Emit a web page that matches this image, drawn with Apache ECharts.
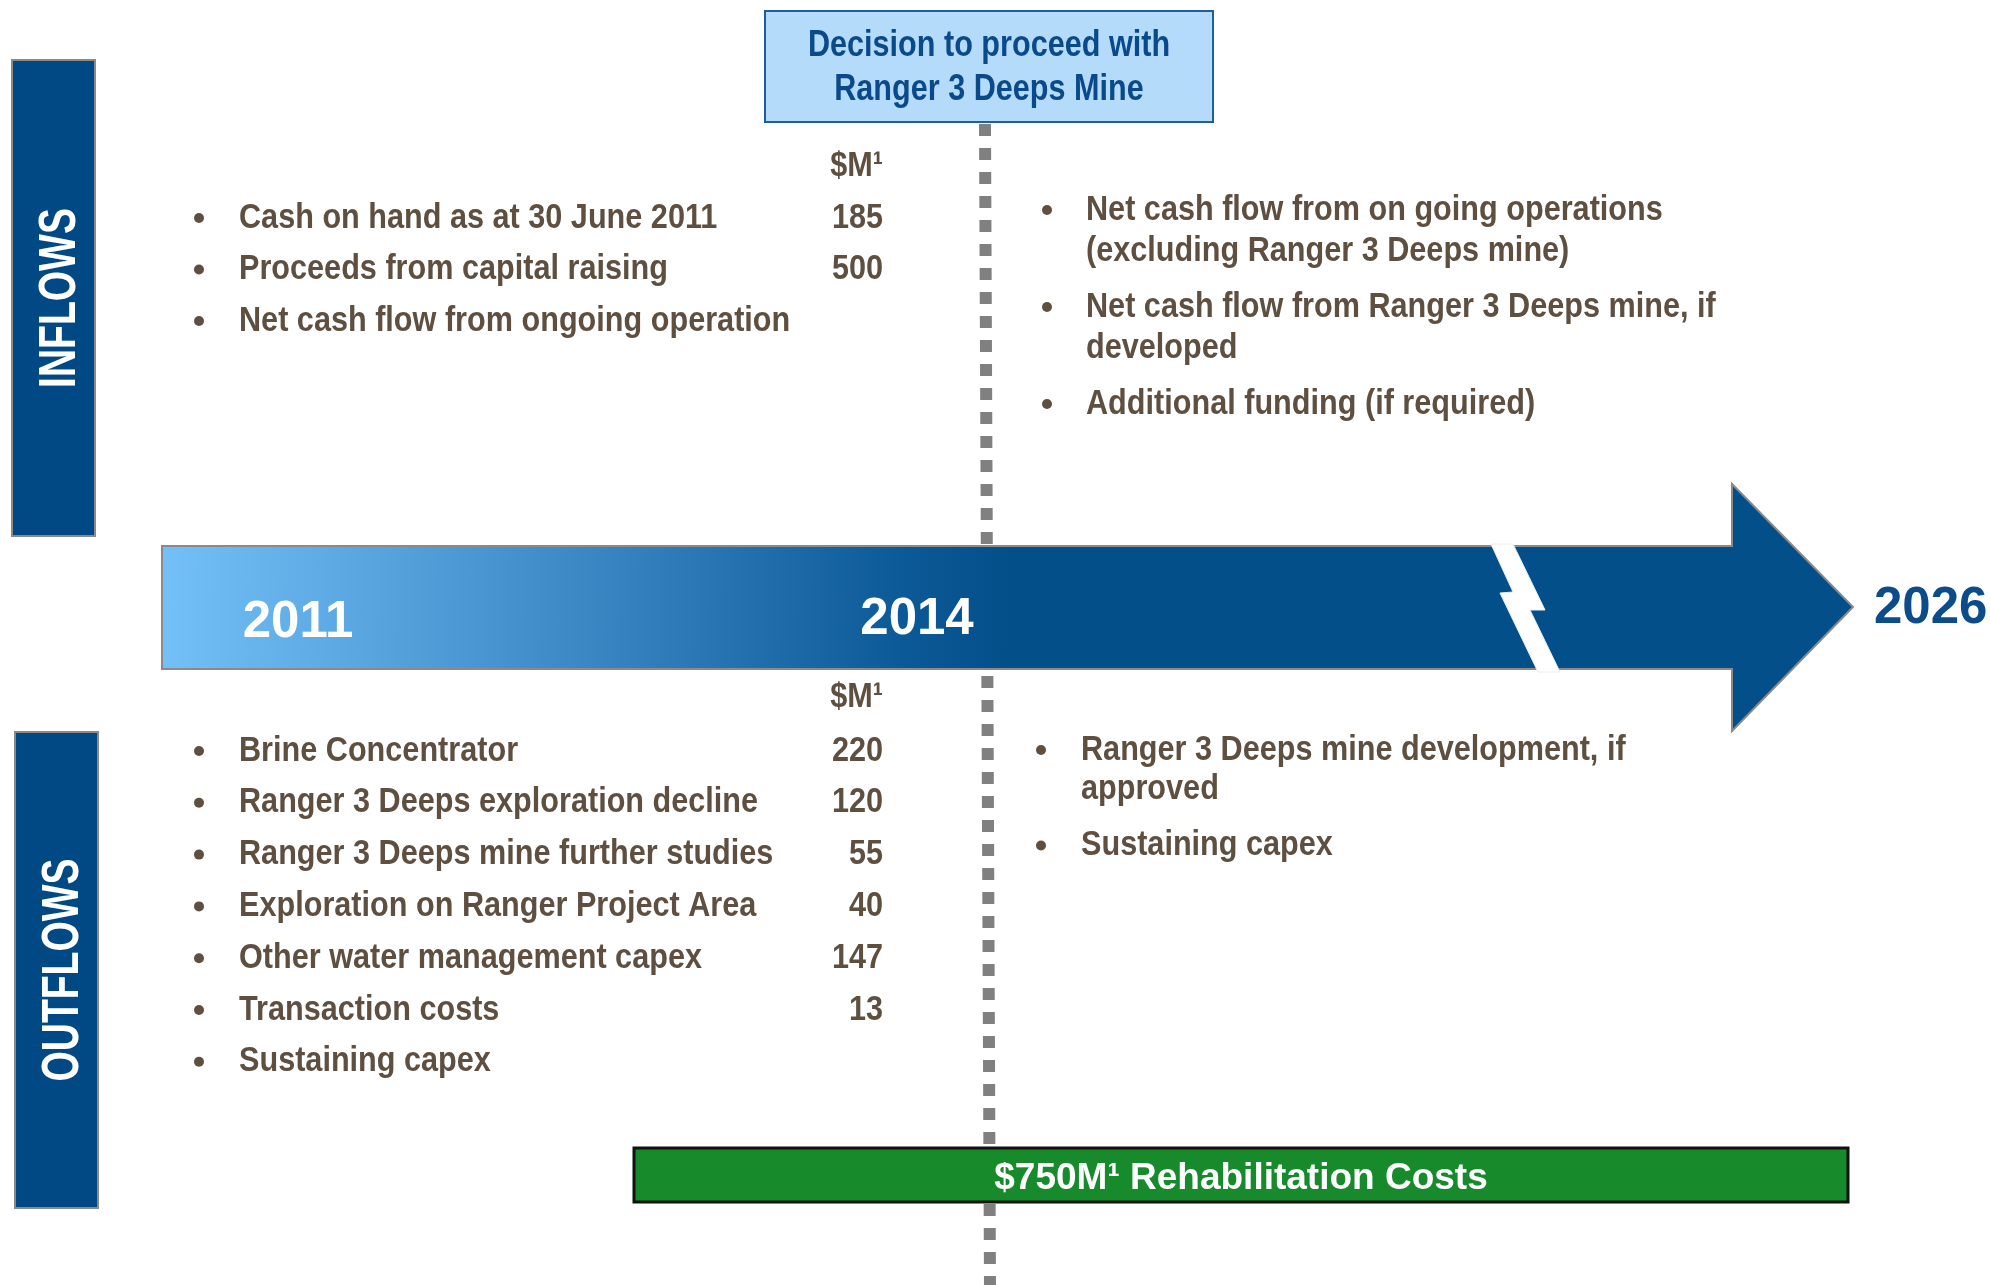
<!DOCTYPE html>
<html lang="en">
<head>
<meta charset="UTF-8">
<title>Ranger 3 Deeps - cash flow timeline</title>
<script src="https://cdn.jsdelivr.net/npm/echarts@6/dist/echarts.min.js"></script>
<style>
  html, body { margin: 0; padding: 0; background: #fff; }
  #main { width: 1990px; height: 1285px; }
</style>
</head>
<body>
<div id="main"></div>
<script>
// timeline labels
var years = ['2011', '2014', '2026'];
var decisionLines = ['Decision to proceed with', 'Ranger 3 Deeps Mine'];
var unitLabel = '$M\u00b9';
var sideLabels = ['INFLOWS', 'OUTFLOWS'];

// before the decision (2011-2014), $M
var inflowItems = ['Cash on hand as at 30 June 2011', 'Proceeds from capital raising', 'Net cash flow from ongoing operation'];
var inflowValues = [185, 500, null];
var outflowItems = ['Brine Concentrator', 'Ranger 3 Deeps exploration decline', 'Ranger 3 Deeps mine further studies',
  'Exploration on Ranger Project Area', 'Other water management capex', 'Transaction costs', 'Sustaining capex'];
var outflowValues = [220, 120, 55, 40, 147, 13, null];

// after the decision (2014-2026)
var inflowLater = [
  ['Net cash flow from on going operations', '(excluding Ranger 3 Deeps mine)'],
  ['Net cash flow from Ranger 3 Deeps mine, if', 'developed'],
  ['Additional funding (if required)']
];
var outflowLater = [
  ['Ranger 3 Deeps mine development, if', 'approved'],
  ['Sustaining capex']
];
var rehabLabel = '$750M\u00b9 Rehabilitation Costs';

// no Arial Narrow here, so squeeze Liberation Sans Bold instead
var FONT = '"Liberation Sans", Arial, sans-serif';
var BODY = 'bold 35px ' + FONT;
var SQUEEZE = 0.875;
var BROWN = '#5e4f40';
var NAVY = '#024f8a';

var g = [];

function txt(x, y, s, font, fill, align, extra) {
  var el = {
    type: 'text', x: x, y: y, z: 20,
    style: { text: s, font: font, fill: fill, align: align || 'left', verticalAlign: 'middle' }
  };
  if (extra) for (var k in extra) el[k] = extra[k];
  g.push(el);
}
function body(x, y, s, align) {
  txt(x, y, s, BODY, BROWN, align, { scaleX: SQUEEZE });
}
function bullet(x, y) {
  g.push({ type: 'circle', z: 20, shape: { cx: x, cy: y, r: 5 }, style: { fill: BROWN } });
}

// dashed decision line (behind everything)
g.push({
  type: 'line', z: 1,
  shape: { x1: 985, y1: 124, x2: 990, y2: 1290 },
  style: { stroke: '#808080', lineWidth: 12, lineDash: [12, 12], lineCap: 'butt' }
});

// side boxes
[[12, 60, 83, 476], [15, 732, 83, 476]].forEach(function (b, i) {
  g.push({
    type: 'rect', z: 5,
    shape: { x: b[0], y: b[1], width: b[2], height: b[3] },
    style: { fill: '#014985', stroke: '#8a8a8a', lineWidth: 2 }
  });
  txt(b[0] + b[2] / 2 + 7, b[1] + b[3] / 2, sideLabels[i], 'bold 52px ' + FONT, '#fff', 'center',
    { rotation: Math.PI / 2, scaleX: 0.75 });
});

// timeline arrow
g.push({
  type: 'polygon', z: 5,
  shape: { points: [[162, 546], [1732, 546], [1732, 484], [1853, 607], [1732, 731], [1732, 669], [162, 669]] },
  style: {
    stroke: '#8a8a8a', lineWidth: 2,
    fill: new echarts.graphic.LinearGradient(0, 0, 1, 0.1, [
      { offset: 0, color: '#74c1f9' },
      { offset: 0.24, color: '#3d8ac7' },
      { offset: 0.44, color: '#0c5997' },
      { offset: 0.5, color: NAVY },
      { offset: 1, color: NAVY }
    ])
  }
});
// break mark
g.push({
  type: 'polygon', z: 6,
  shape: { points: [[1491, 544], [1513, 544], [1545, 610], [1530, 610], [1560, 672], [1538, 672], [1500, 593], [1513, 592]] },
  style: { fill: '#fff', stroke: '#e8eef4', lineWidth: 1 }
});
txt(298, 623, years[0], 'bold 51px ' + FONT, '#fff', 'center');
txt(917, 620, years[1], 'bold 51px ' + FONT, '#fff', 'center');
txt(1874, 609, years[2], 'bold 51px ' + FONT, '#0d4c8b', 'left');

// decision box
g.push({
  type: 'rect', z: 10,
  shape: { x: 765, y: 11, width: 448, height: 111 },
  style: { fill: '#b5dbfb', stroke: '#1f5fa0', lineWidth: 2 }
});
decisionLines.forEach(function (s, i) {
  txt(989, 46 + i * 44, s, 'bold 36px ' + FONT, '#0b4a8a', 'center', { scaleX: 0.85 });
});

// inflows before decision
body(883, 166, unitLabel, 'right');
inflowItems.forEach(function (s, i) {
  var y = 218 + i * 51.5;
  bullet(199, y);
  body(239, y, s);
  if (inflowValues[i] != null) body(883, y, String(inflowValues[i]), 'right');
});

// outflows before decision
body(883, 697, unitLabel, 'right');
outflowItems.forEach(function (s, i) {
  var y = 751 + i * 51.8;
  bullet(199, y);
  body(239, y, s);
  if (outflowValues[i] != null) body(883, y, String(outflowValues[i]), 'right');
});

// after decision columns
function column(items, bx, tx, y0, lineH, gap) {
  var y = y0;
  items.forEach(function (lines) {
    bullet(bx, y);
    lines.forEach(function (s, j) {
      body(tx, y, s);
      if (j < lines.length - 1) y += lineH;
    });
    y += gap;
  });
}
column(inflowLater, 1047, 1086, 210, 41, 56);
column(outflowLater, 1041, 1081, 750, 39.5, 56);

// rehabilitation bar
g.push({
  type: 'rect', z: 10,
  shape: { x: 634, y: 1148, width: 1214, height: 54 },
  style: { fill: '#178a2b', stroke: '#111', lineWidth: 3 }
});
txt(1241, 1179, rehabLabel, 'bold 37px ' + FONT, '#fff', 'center');

var chart = echarts.init(document.getElementById('main'));
chart.setOption({
  backgroundColor: '#fff',
  animation: false,
  graphic: { elements: g }
});
</script>
</body>
</html>
